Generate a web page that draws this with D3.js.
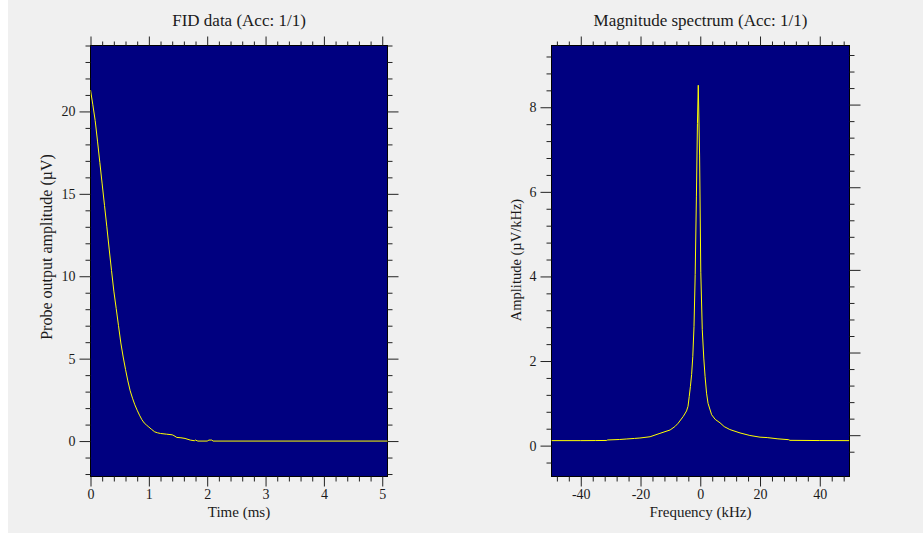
<!DOCTYPE html>
<html>
<head>
<meta charset="utf-8">
<script src="https://cdn.jsdelivr.net/npm/d3@7"></script>
<style>
  html, body { margin: 0; padding: 0; background: #ffffff; }
  svg { display: block; }
  text { font-family: "Liberation Serif", "Times New Roman", serif; fill: #1a1a1a; }
</style>
</head>
<body>
<svg id="chart" width="923" height="536"></svg>
<script>
// FID signal: time (ms) and probe output amplitude (µV)
const fidTime = [0, 0.04, 0.08, 0.12, 0.16, 0.2, 0.24, 0.28, 0.32, 0.36, 0.4, 0.44, 0.48, 0.52,
  0.56, 0.6, 0.64, 0.68, 0.72, 0.76, 0.8, 0.84, 0.88, 0.92, 0.96, 1.0, 1.05, 1.1, 1.15, 1.2,
  1.3, 1.4, 1.43, 1.48, 1.55, 1.62, 1.71, 1.78, 1.8, 1.84, 2.0, 2.03, 2.08, 2.1, 5.1];
const fidAmp = [21.3, 20.4, 19.45, 18.2, 16.9, 15.6, 14.3, 13.0, 11.65, 10.35, 9.1, 8.05, 7.0, 5.95,
  5.1, 4.35, 3.65, 3.05, 2.6, 2.2, 1.87, 1.57, 1.3, 1.1, 0.97, 0.85, 0.7, 0.56, 0.5, 0.46,
  0.42, 0.38, 0.33, 0.22, 0.2, 0.16, 0.06, 0.02, 0.06, 0.0, 0.0, 0.06, 0.06, 0.0, 0.0];

// Magnitude spectrum: frequency (kHz) and amplitude (µV/kHz)
const specFreq = [-49.9, -40, -35, -31.3, -31.0, -27, -24.6, -22, -20.2, -16.8, -13.5, -10.1,
  -8.5, -7.4, -5.7, -4.6, -4.1, -3.7, -3.3, -2.9, -2.5, -2.1, -1.7, -1.3, -0.95, -0.67,
  -0.23, 0.17, 0.67, 1.17, 1.6, 2.1, 2.6, 3.8, 5.0, 6.6, 8.0, 9.9, 13.3, 16.6, 20, 22.4, 26, 29.6, 30.0, 40, 49.9];
const specAmp = [0.118, 0.118, 0.12, 0.122, 0.134, 0.145, 0.157, 0.17, 0.18, 0.21, 0.29, 0.37,
  0.45, 0.53, 0.69, 0.82, 0.93, 1.16, 1.40, 1.68, 2.11, 2.82, 4.05, 5.88, 7.62, 8.52,
  6.87, 4.1, 2.74, 2.07, 1.64, 1.24, 1.0, 0.73, 0.62, 0.54, 0.45, 0.38, 0.30, 0.24, 0.20, 0.19, 0.16, 0.14, 0.125, 0.12, 0.118];

// Axis ticks
const fidXMajor = [0, 1, 2, 3, 4, 5];
const fidYMajor = [0, 5, 10, 15, 20];
const specXMajor = [-40, -20, 0, 20, 40];
const specYMajor = [0, 2, 4, 6, 8];

const titles = ["FID data (Acc: 1/1)", "Magnitude spectrum (Acc: 1/1)"];
const xLabels = ["Time (ms)", "Frequency (kHz)"];
const yLabels = ["Probe output amplitude (\u00b5V)", "Amplitude (\u00b5V/kHz)"];

const svg = d3.select("#chart");

// panel background
svg.append("rect").attr("x", 8).attr("y", 0).attr("width", 915).attr("height", 533)
  .attr("fill", "#f0f0f0");

const fmt = d => String(d);
const minorRange = (a, b, step, majors) =>
  d3.range(Math.round(a / step), Math.round(b / step) + 1)
    .map(i => +(i * step).toFixed(6))
    .filter(v => !majors.some(m => Math.abs(m - v) < 1e-6));

function drawPanel(opt) {
  const { left, right, top, bottom } = opt;
  const g = svg.append("g");
  const x = d3.scaleLinear().domain(opt.xDomain).range([left, right]);
  const y = d3.scaleLinear().domain(opt.yDomain).range([bottom, top]);
  const yR = opt.yRightDomain ? d3.scaleLinear().domain(opt.yRightDomain).range([bottom, top]) : y;

  g.append("rect").attr("x", left).attr("y", top)
    .attr("width", right - left).attr("height", bottom - top)
    .attr("fill", "#000080").attr("stroke", "#000").attr("stroke-width", 1);

  const tickStyle = sel => {
    sel.select(".domain").remove();
    sel.selectAll(".tick line").attr("stroke", "#222").attr("stroke-width", 1);
  };
  const addAxis = (axisFn, scale, vals, size, transform, labels, pad) => {
    const ax = axisFn(scale).tickValues(vals).tickSize(size).tickSizeOuter(0);
    if (labels) ax.tickFormat(fmt).tickPadding(pad); else ax.tickFormat("");
    const s = g.append("g").attr("transform", transform).call(ax);
    tickStyle(s);
    s.selectAll("text").style("font-size", "14px").attr("fill", "#1a1a1a")
      .style("font-family", "'Liberation Serif', 'Times New Roman', serif");
    return s;
  };

  // bottom
  addAxis(d3.axisBottom, x, opt.xMajor, 10, `translate(0,${bottom})`, true, 3);
  addAxis(d3.axisBottom, x, opt.xMinor, 5, `translate(0,${bottom})`, false);
  // top
  addAxis(d3.axisTop, x, opt.xMajor, 9, `translate(0,${top})`, false);
  addAxis(d3.axisTop, x, opt.xMinor, 4, `translate(0,${top})`, false);
  // left
  addAxis(d3.axisLeft, y, opt.yMajor, 11, `translate(${left},0)`, true, 4);
  addAxis(d3.axisLeft, y, opt.yMinor, 5, `translate(${left},0)`, false);
  // right
  addAxis(d3.axisRight, yR, opt.yMajor, 11, `translate(${right},0)`, false);
  addAxis(d3.axisRight, yR, opt.yMinor, 5, `translate(${right},0)`, false);

  // data trace
  const clipId = "clip" + opt.id;
  svg.append("clipPath").attr("id", clipId).append("rect")
    .attr("x", left).attr("y", top).attr("width", right - left).attr("height", bottom - top);
  const pts = opt.xs.map((v, i) => [v, opt.ys[i]]);
  g.append("path").datum(pts)
    .attr("clip-path", `url(#${clipId})`)
    .attr("fill", "none").attr("stroke", "#ffff00").attr("stroke-width", 1)
    .attr("d", d3.line().x(d => x(d[0])).y(d => y(d[1])));

  // title and axis labels
  const cx = (left + right) / 2;
  g.append("text").attr("x", cx).attr("y", 26).attr("text-anchor", "middle")
    .style("font-size", "17px").text(opt.title);
  g.append("text").attr("x", cx).attr("y", 517).attr("text-anchor", "middle")
    .style("font-size", "15px").text(opt.xLabel);
  g.append("text").attr("transform", `translate(${opt.yLabelX},${opt.yLabelY}) rotate(-90)`)
    .attr("text-anchor", "middle").style("font-size", opt.yLabelSize).text(opt.yLabel);
}

drawPanel({
  id: 0, left: 90.5, right: 387.5, top: 45.5, bottom: 476.5,
  xDomain: [0, 5.09], yDomain: [-2.15, 24.0],
  xMajor: fidXMajor, xMinor: minorRange(0, 5.0, 0.2, fidXMajor),
  yMajor: fidYMajor, yMinor: minorRange(-2, 24, 1, fidYMajor),
  xs: fidTime, ys: fidAmp,
  title: titles[0], xLabel: xLabels[0], yLabel: yLabels[0],
  yLabelX: 52, yLabelY: 247, yLabelSize: "16px"
});

drawPanel({
  id: 1, left: 551.5, right: 849.5, top: 45.5, bottom: 476.5,
  xDomain: [-49.8, 49.95], yDomain: [-0.73, 9.46], yRightDomain: [-1.0, 9.43],
  xMajor: specXMajor, xMinor: minorRange(-48, 48, 4, specXMajor),
  yMajor: specYMajor, yMinor: minorRange(-0.4, 9.2, 0.4, specYMajor),
  xs: specFreq, ys: specAmp,
  title: titles[1], xLabel: xLabels[1], yLabel: yLabels[1],
  yLabelX: 521, yLabelY: 260, yLabelSize: "14.5px"
});
</script>
</body>
</html>
